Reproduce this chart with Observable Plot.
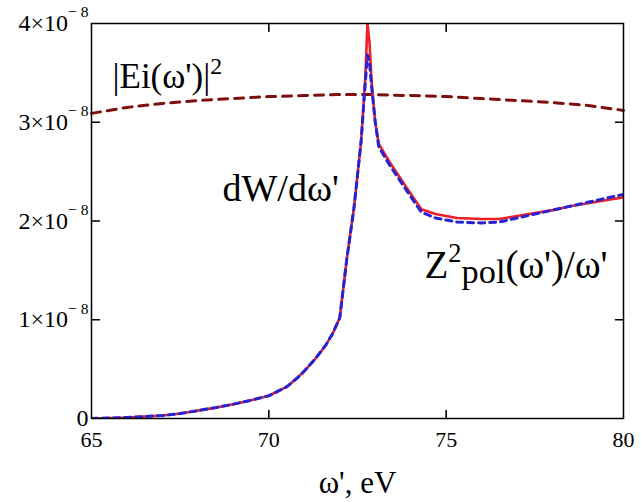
<!DOCTYPE html>
<html><head><meta charset="utf-8">
<script src="https://cdn.jsdelivr.net/npm/d3@7"></script>
<script src="https://cdn.jsdelivr.net/npm/@observablehq/plot@0.6"></script>
<style>
body{margin:0;background:#fff;}
svg{display:block}
svg text, svg tspan{font-family:"Liberation Serif","Times New Roman","DejaVu Serif",serif !important;}
</style>
</head><body><div id="chart"></div>
<script>
// photon energy grid (eV) for the two spectra
const omega = [65, 65.5, 66, 66.5, 67, 67.5, 68, 68.5, 69, 69.5,
  70, 70.5, 70.8, 71, 71.3, 71.6, 71.8, 72, 72.2, 72.4,
  72.6, 72.72, 72.78, 72.84, 72.9, 73, 73.1, 73.4, 73.9, 74.3,
  74.7, 75.3, 76, 76.5, 77, 77.5, 78, 78.5, 79, 79.5, 80];
// dW/dω' (units of 1e-8), red solid
const dW = [0.00, 0.005, 0.01, 0.02, 0.03, 0.05, 0.08, 0.11, 0.145, 0.185,
  0.23, 0.32, 0.41, 0.48, 0.60, 0.74, 0.86, 1.02, 1.62, 2.13,
  2.8, 3.45, 4.0, 3.8, 3.4, 3.0, 2.78, 2.6, 2.33, 2.12,
  2.07, 2.03, 2.02, 2.02, 2.05, 2.08, 2.11, 2.15, 2.18, 2.21, 2.24];
// Z²pol(ω')/ω' (units of 1e-8), blue dashed
const zpol = [0.00, 0.005, 0.01, 0.02, 0.03, 0.05, 0.08, 0.11, 0.145, 0.185,
  0.23, 0.32, 0.41, 0.48, 0.60, 0.74, 0.86, 1.02, 1.62, 2.13,
  2.8, 3.4, 3.68, 3.6, 3.35, 3.0, 2.75, 2.57, 2.3, 2.09,
  2.03, 1.99, 1.98, 1.99, 2.03, 2.07, 2.11, 2.15, 2.19, 2.23, 2.27];
// |Ei(ω')|² (units of 1e-8), dark red dashed
const omegaE = [65, 66, 67, 68, 69, 70, 71, 72, 73, 74, 75, 76, 77, 78, 79, 80];
const Ei2 = [3.09, 3.15, 3.19, 3.22, 3.24, 3.26, 3.27, 3.28, 3.28, 3.27, 3.26, 3.24, 3.22, 3.20, 3.17, 3.12];

const xTicks = [65, 70, 75, 80];
const xInnerTicks = [70, 75];
const yTicks = [0, 1, 2, 3, 4];
const yInnerTicks = [1, 2, 3];
const yTickLabels = ["0", "1×10^{− 8}", "2×10^{− 8}", "3×10^{− 8}", "4×10^{− 8}"];
const xTitle = "ω', eV";
const labelE = "|Ei(ω')|^{2}";
const labelW = "dW/dω'";
const labelZ = "Z^{2}_{pol}(ω')/ω'";

const serif = "Liberation Serif";
const tickShape = {draw(ctx, l) { ctx.moveTo(0, 0); ctx.lineTo(0, -l); }};
const inTick = (data, opts) => Plot.vector(data, {length: 8, anchor: "start", shape: tickShape, stroke: "#000", strokeWidth: 1.6, ...opts});

const chart = Plot.plot({
  width: 641, height: 502,
  marginLeft: 91, marginRight: 18, marginTop: 23, marginBottom: 84,
  style: {fontFamily: serif, background: "#fff", color: "#000", overflow: "visible"},
  x: {domain: [65, 80], label: null},
  y: {domain: [0, 4], label: null},
  marks: [
    Plot.axisX({anchor: "bottom", ticks: xTicks, tickSize: 0, tickPadding: 13, fontSize: 22, fontFamily: serif, label: null}),
    Plot.axisY({anchor: "left", ticks: yTicks, tickSize: 0, tickPadding: 3, dy: 0, fontSize: 24, fontFamily: serif, label: null,
      tickFormat: d => yTickLabels[yTicks.indexOf(d)]}),
    inTick(xInnerTicks, {x: d => d, frameAnchor: "bottom", rotate: 0}),
    inTick(xInnerTicks, {x: d => d, frameAnchor: "top", rotate: 180}),
    inTick(yInnerTicks, {y: d => d, frameAnchor: "left", rotate: 90}),
    inTick(yInnerTicks, {y: d => d, frameAnchor: "right", rotate: 270}),
    Plot.line(omegaE, {x: omegaE, y: Ei2, stroke: "#7d0f0f", strokeWidth: 3, strokeDasharray: "9,7"}),
    Plot.line(omega, {x: omega, y: dW, stroke: "#ee1f26", strokeWidth: 2.6, clip: true}),
    Plot.line(omega, {x: omega, y: zpol, stroke: "#2424d4", strokeWidth: 3, strokeDasharray: "6,5", clip: true}),
    Plot.frame({stroke: "#000", strokeWidth: 1.5}),
    Plot.text([labelE], {text: d => d, frameAnchor: "top-left", dx: 21, dy: 53, textAnchor: "start", lineAnchor: "middle", fontSize: 35, fontFamily: serif}),
    Plot.text([labelW], {text: d => d, frameAnchor: "top-left", dx: 131, dy: 165, textAnchor: "start", lineAnchor: "middle", fontSize: 38, fontFamily: serif}),
    Plot.text([labelZ], {text: d => d, frameAnchor: "top-left", dx: 333, dy: 242, textAnchor: "start", lineAnchor: "middle", fontSize: 39, fontFamily: serif}),
    Plot.text([xTitle], {text: d => d, frameAnchor: "bottom", dy: 65, lineAnchor: "middle", fontSize: 31, fontFamily: serif})
  ]
});
document.getElementById("chart").appendChild(chart);

// turn ^{..} and _{..} markers into raised / lowered tspans
function richify(el, sup, sub) {
  const txt = el.textContent;
  if (!/[\^_]\{/.test(txt)) return;
  const F = parseFloat(getComputedStyle(el).fontSize);
  const parts = txt.split(/(\^\{[^}]*\}|_\{[^}]*\})/).filter(s => s.length);
  while (el.firstChild) el.removeChild(el.firstChild);
  let shift = 0;
  for (const p of parts) {
    const ts = document.createElementNS("http://www.w3.org/2000/svg", "tspan");
    let target = 0, size = F, content = p;
    if (p.startsWith("^{")) { target = -sup[1] * F; size = sup[0] * F; content = p.slice(2, -1); }
    else if (p.startsWith("_{")) { target = sub[1] * F; size = sub[0] * F; content = p.slice(2, -1); }
    ts.setAttribute("dy", (target - shift).toFixed(2));
    ts.setAttribute("font-size", size.toFixed(1));
    ts.textContent = content;
    el.appendChild(ts);
    shift = target;
  }
}
d3.select(chart).selectAll('g[aria-label="y-axis tick label"] text').each(function() { richify(this, [0.65, 0.58], [0.75, 0.2]); });
d3.select(chart).selectAll('g[aria-label="text"] text').each(function() { richify(this, [0.68, 0.4], [0.88, 0.14]); });
</script>
</body></html>
